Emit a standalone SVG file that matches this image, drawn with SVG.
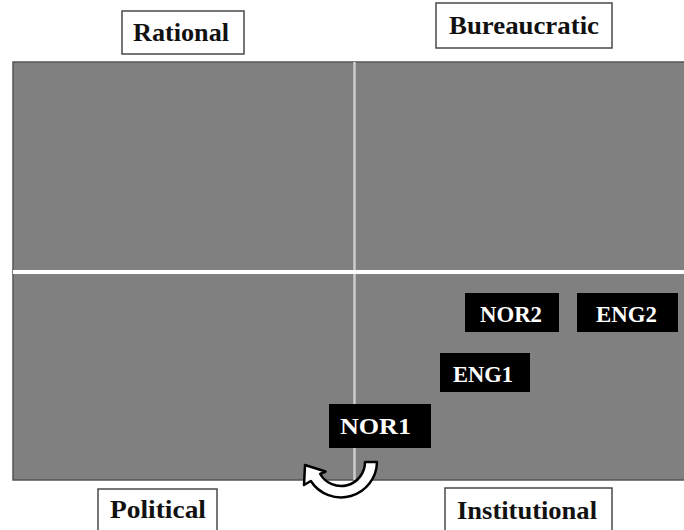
<svg xmlns="http://www.w3.org/2000/svg" width="684" height="530" viewBox="0 0 684 530">
  <style>
    .axis-label { fill: #ffffff; stroke: #4a4a4a; stroke-width: 1.5; }
    .axis-text { font-family: "Liberation Serif", "Times New Roman", serif; font-weight: bold; font-size: 25px; fill: #111111; }
    .node-box { fill: #000000; }
    .node-text { font-family: "Liberation Serif", "Times New Roman", serif; font-weight: bold; font-size: 24px; fill: #ffffff; }
  </style>

  <rect x="0" y="0" width="684" height="530" fill="#ffffff"/>

  <!-- quadrant field -->
  <g id="field">
    <rect x="13" y="62" width="680" height="418" fill="#808080" stroke="#555555" stroke-width="1.5"/>
    <line x1="354.5" y1="62" x2="354.5" y2="480" stroke="#d0d0d0" stroke-width="2.4"/>
    <line x1="13" y1="272" x2="684" y2="272" stroke="#ffffff" stroke-width="4.2"/>
  </g>

  <!-- quadrant labels -->
  <g id="label-rational">
    <rect class="axis-label" x="122" y="11" width="122" height="43"/>
    <text class="axis-text" x="133" y="41" textLength="96" lengthAdjust="spacingAndGlyphs">Rational</text>
  </g>
  <g id="label-bureaucratic">
    <rect class="axis-label" x="436" y="3" width="176" height="45"/>
    <text class="axis-text" x="449" y="34" textLength="150" lengthAdjust="spacingAndGlyphs">Bureaucratic</text>
  </g>
  <g id="label-political">
    <rect class="axis-label" x="98" y="489" width="119" height="45"/>
    <text class="axis-text" x="110" y="518" textLength="96" lengthAdjust="spacingAndGlyphs">Political</text>
  </g>
  <g id="label-institutional">
    <rect class="axis-label" x="445" y="488" width="167" height="46"/>
    <text class="axis-text" x="457" y="519" textLength="140" lengthAdjust="spacingAndGlyphs">Institutional</text>
  </g>

  <!-- cases -->
  <g id="node-nor2">
    <rect class="node-box" x="465" y="293" width="94" height="39"/>
    <text class="node-text" x="480" y="322" textLength="62" lengthAdjust="spacingAndGlyphs">NOR2</text>
  </g>
  <g id="node-eng2">
    <rect class="node-box" x="577" y="293" width="101" height="39"/>
    <text class="node-text" x="596" y="322" textLength="61" lengthAdjust="spacingAndGlyphs">ENG2</text>
  </g>
  <g id="node-eng1">
    <rect class="node-box" x="440" y="353" width="90" height="39"/>
    <text class="node-text" x="453" y="382" textLength="60" lengthAdjust="spacingAndGlyphs">ENG1</text>
  </g>
  <g id="node-nor1">
    <rect class="node-box" x="329" y="404" width="102" height="44"/>
    <text class="node-text" x="340" y="434" font-size="26" textLength="71" lengthAdjust="spacingAndGlyphs">NOR1</text>
  </g>

  <!-- curved U-turn arrow below NOR1 -->
  <g id="connectors">
    <path d="M 365 462 L 377 462 A 36 36 0 0 1 310.8 481 L 304 485 L 305 465 L 325.5 471.5 L 320.2 474 A 24 24 0 0 0 365 462 Z"
          fill="#ffffff" stroke="#000000" stroke-width="2.5" stroke-linejoin="round"/>
  </g>
</svg>
